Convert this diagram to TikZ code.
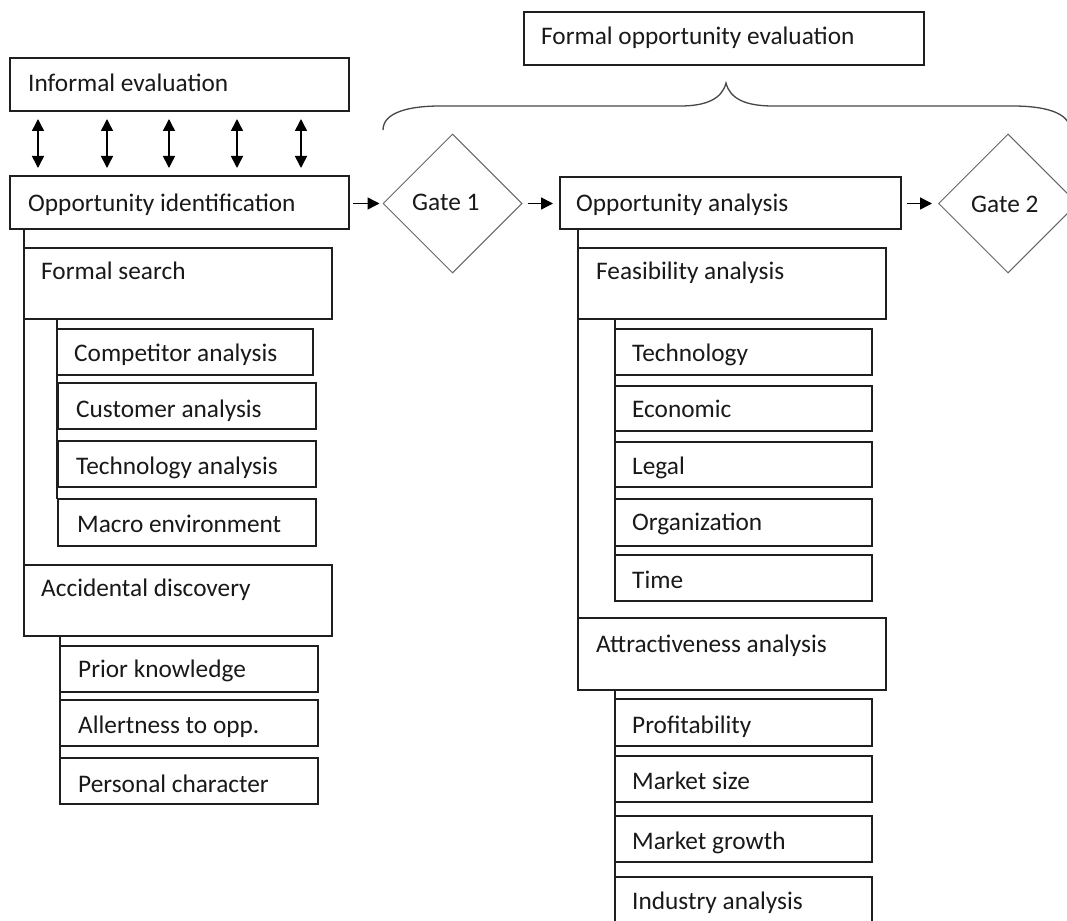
\documentclass[tikz,border=0pt]{standalone}
\usepackage{fontspec}
\setmainfont{Carlito}
\usetikzlibrary{arrows.meta,shapes.geometric,calc}

% box: rectangle given by its top-left and bottom-right corners (pixel-like units, y down)
\newcommand\pbox[5]{\node[box, minimum width={#4-#2}, minimum height={#5-#3}] (#1) at (#2,#3) {};}

\begin{document}
\begin{tikzpicture}[x=1pt,y=-1pt,
  box/.style={draw=black!88, line width=1.2pt, fill=white, inner sep=0pt, outer sep=0pt, anchor=north west},
  txt/.style={anchor=base west, inner sep=0pt, text=black!90, font=\fontsize{25.3}{30}\selectfont},
  gate/.style={diamond, draw=black!60, line width=1pt, inner sep=0pt, shape aspect=1,
    minimum width=139pt, minimum height=139pt},
  trunk/.style={draw=black!88, line width=1.2pt},
  tip/.style={-{Triangle[length=12pt,width=12pt]}, line width=1.5pt, draw=black},
  dbl/.style={{Triangle[length=12pt,width=12pt]}-{Triangle[length=12pt,width=12pt]}, line width=1.5pt, draw=black, shorten <=8pt, shorten >=8pt},
  brace/.style={draw=black!72, line width=1.3pt}
]
\useasboundingbox (0,0) rectangle (1067,920);
\clip (0,0) rectangle (1067,920);
\fill[white] (0,0) rectangle (1067,920);

% ---------- left column: opportunity identification ----------
\pbox{ie}{10}{58}{349}{111}
\pbox{oi}{10}{176}{349}{229}

% vertical links from the identification branch
\coordinate (ltop) at ($(oi.south west)+(14,0)$);
\coordinate (lbot) at (24,565);
\draw[trunk] (ltop) -- (lbot);
\coordinate (fsl) at (57,319);
\coordinate (fsb) at (57,499);
\draw[trunk] (fsl) -- (fsb);
\coordinate (adl) at (60,636);
\coordinate (adb) at (60,758);
\draw[trunk] (adl) -- (adb);

\pbox{fs}{24}{248}{332}{319}
\pbox{ca}{57}{329}{313}{375}
\pbox{cu}{58}{383}{316}{429}
\pbox{ta}{58}{441}{316}{487}
\pbox{me}{58}{499}{316}{546}
\pbox{ad}{24}{565}{332}{636}
\pbox{pk}{60}{646}{318}{692}
\pbox{al}{60}{700}{318}{746}
\pbox{pc}{60}{758}{318}{804}

\node[txt] (ie-t) at (28,92) {Informal evaluation};
\node[txt] (oi-t) at (28,211) {Opportunity identification};
\node[txt] (fs-t) at (41,279) {Formal search};
\node[txt] (ca-t) at (74,361) {Competitor analysis};
\node[txt] (cu-t) at (76,417) {Customer analysis};
\node[txt] (ta-t) at (76,474) {Technology analysis};
\node[txt] (me-t) at (77,532) {Macro environment};
\node[txt] (ad-t) at (41,596) {Accidental discovery};
\node[txt] (pk-t) at (78,677) {Prior knowledge};
\node[txt] (al-t) at (78,733) {Allertness to opp.};
\node[txt] (pc-t) at (78,792) {Personal character};

% two-way links between informal evaluation and identification
\foreach \dx in {28,97,159,227,291}
  \draw[dbl] ($(ie.south west)+(\dx,0)$) -- ($(oi.north west)+(\dx,0)$);

% ---------- gates ----------
\node[gate] (g1) at (452.5,203.5) {};
\node[gate] (g2) at (1008,203.5) {};
\node[txt] (g1-t) at (412,210) {Gate 1};
\node[txt] (g2-t) at (971,212) {Gate 2};

% ---------- right column: opportunity analysis ----------
\pbox{foe}{524}{12}{924}{65}
\pbox{oa}{560}{177}{901}{229}

\coordinate (rtop) at ($(oa.south west)+(18,0)$);
\coordinate (rbot) at (578,618);
\draw[trunk] (rtop) -- (rbot);
\coordinate (fal) at (615,319);
\coordinate (fab) at (615,555);
\draw[trunk] (fal) -- (fab);
\coordinate (aal) at (615,690);
\coordinate (aab) at (615,925);
\draw[trunk] (aal) -- (aab);

\pbox{fa}{578}{248}{886}{319}
\pbox{te}{615}{329}{872}{375}
\pbox{ec}{615}{386}{872}{431}
\pbox{le}{615}{442}{872}{487}
\pbox{or}{615}{499}{872}{546}
\pbox{ti}{615}{555}{872}{601}
\pbox{aa}{578}{618}{886}{690}
\pbox{pr}{615}{699}{872}{746}
\pbox{ms}{615}{756}{872}{802}
\pbox{mg}{615}{816}{872}{862}
\pbox{ia}{615}{877}{872}{940}

\node[txt] (foe-t) at (541,45) {Formal opportunity evaluation};
\node[txt] (oa-t) at (576,211) {Opportunity analysis};
\node[txt] (fa-t) at (596,279) {Feasibility analysis};
\node[txt] (te-t) at (632,361) {Technology};
\node[txt] (ec-t) at (632,417) {Economic};
\node[txt] (le-t) at (632,474) {Legal};
\node[txt] (or-t) at (632,530) {Organization};
\node[txt] (ti-t) at (632,588) {Time};
\node[txt] (aa-t) at (596,652) {Attractiveness analysis};
\node[txt] (pr-t) at (632,733) {Profitability};
\node[txt] (ms-t) at (632,789) {Market size};
\node[txt] (mg-t) at (632,849) {Market growth};
\node[txt] (ia-t) at (632,909) {Industry analysis};

% ---------- flow arrows ----------
\draw[tip, shorten <=4pt, shorten >=3pt] (oi.east |- g1.west) -- (g1.west);
\draw[tip, shorten <=5pt, shorten >=7pt] (g1.east) -- (oa.west |- g1.east);
\draw[tip, shorten <=6pt, shorten >=6pt] (oa.east |- g2.west) -- (g2.west);

% ---------- brace spanning the formal evaluation ----------
\coordinate (bl) at (383,130);
\coordinate (bt) at (726,83);
\coordinate (br) at (1070,130);
\draw[brace] (bl) .. controls (383,112) and (410,106) .. (440,106) -- (680,106)
  .. controls (706,106) and (722,99) .. (bt)
  .. controls (730,99) and (746,106) .. (773,106) -- (1013,106)
  .. controls (1043,106) and (1070,112) .. (br);
\end{tikzpicture}
\end{document}
